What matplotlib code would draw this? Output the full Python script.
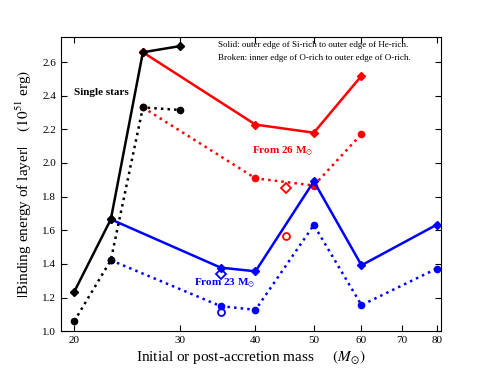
import matplotlib
matplotlib.use('Agg')
import matplotlib.pyplot as plt
from matplotlib.ticker import ScalarFormatter, NullLocator, FormatStrFormatter

plt.rcParams['font.family'] = ['Liberation Serif', 'DejaVu Serif']
plt.rcParams['mathtext.fontset'] = 'stix'

# single stars
single_mass = [20, 23, 26, 30]
single_solid = [1.235, 1.665, 2.658, 2.695]
single_broken = [1.06, 1.422, 2.33, 2.315]

# from 26 Msun
m26_mass = [26, 40, 50, 60]
m26_solid = [2.658, 2.228, 2.18, 2.518]
m26_broken = [2.33, 1.909, 1.866, 2.172]
m26_open_mass = [45]
m26_open_solid = [1.852]
m26_open_broken = [1.563]

# from 23 Msun
m23_mass = [23, 35, 40, 50, 60, 80]
m23_solid = [1.665, 1.378, 1.356, 1.891, 1.392, 1.633]
m23_broken = [1.422, 1.149, 1.127, 1.631, 1.155, 1.372]
m23_open_mass = [35]
m23_open_solid = [1.338]
m23_open_broken = [1.112]

xticks = [20, 30, 40, 50, 60, 70, 80]
yticks = [1.0, 1.2, 1.4, 1.6, 1.8, 2.0, 2.2, 2.4, 2.6]

fig = plt.figure(figsize=(4.91, 3.68), dpi=100)
ax = fig.add_axes([0.124, 0.10, 0.774, 0.80])

lw = 1.8
for mass, solid, broken, col in [(m26_mass, m26_solid, m26_broken, 'red'),
                                 (m23_mass, m23_solid, m23_broken, 'blue'),
                                 (single_mass, single_solid, single_broken, 'black')]:
    ax.plot(mass, solid, '-', color=col, lw=lw, marker='D', ms=4.5, mec=col, mfc=col)
    ax.plot(mass, broken, ':', color=col, lw=lw, marker='o', ms=4.5, mec=col, mfc=col)

ax.plot(m26_open_mass, m26_open_solid, 'D', ms=5, mfc='none', mec='red', mew=1.3)
ax.plot(m26_open_mass, m26_open_broken, 'o', ms=5, mfc='none', mec='red', mew=1.3)
ax.plot(m23_open_mass, m23_open_solid, 'D', ms=5, mfc='none', mec='blue', mew=1.3)
ax.plot(m23_open_mass, m23_open_broken, 'o', ms=5, mfc='none', mec='blue', mew=1.3)

ax.set_xscale('log')
ax.set_xlim(19.0, 81.3)
ax.set_ylim(1.0, 2.75)
ax.set_xticks(xticks)
ax.xaxis.set_major_formatter(ScalarFormatter())
ax.xaxis.set_minor_locator(NullLocator())
ax.set_yticks(yticks)
ax.yaxis.set_major_formatter(FormatStrFormatter('%.1f'))
ax.tick_params(which='both', direction='in', top=True, right=True, labelsize=8, length=4)

ax.set_xlabel(r'Initial or post-accretion mass     $(M_{\odot})$', fontsize=11, labelpad=2)
ax.set_ylabel(r'$|$Binding energy of layer$|$    $(10^{51}$ erg$)$', fontsize=11, labelpad=6)

ax.text(20, 2.42, 'Single stars', fontsize=8, fontweight='bold', ha='left', va='center')
ax.text(0.413, 0.973, 'Solid: outer edge of Si-rich to outer edge of He-rich.',
        transform=ax.transAxes, fontsize=6.5, ha='left', va='center')
ax.text(0.413, 0.929, 'Broken: inner edge of O-rich to outer edge of O-rich.',
        transform=ax.transAxes, fontsize=6.5, ha='left', va='center')
ax.text(0.584, 0.609, r'From 26 M$_{\odot}$', transform=ax.transAxes, color='red',
        fontsize=8, fontweight='bold', ha='center', va='center')
ax.text(0.432, 0.163, r'From 23 M$_{\odot}$', transform=ax.transAxes, color='blue',
        fontsize=8, fontweight='bold', ha='center', va='center')

fig.savefig('out.png', dpi=100)
